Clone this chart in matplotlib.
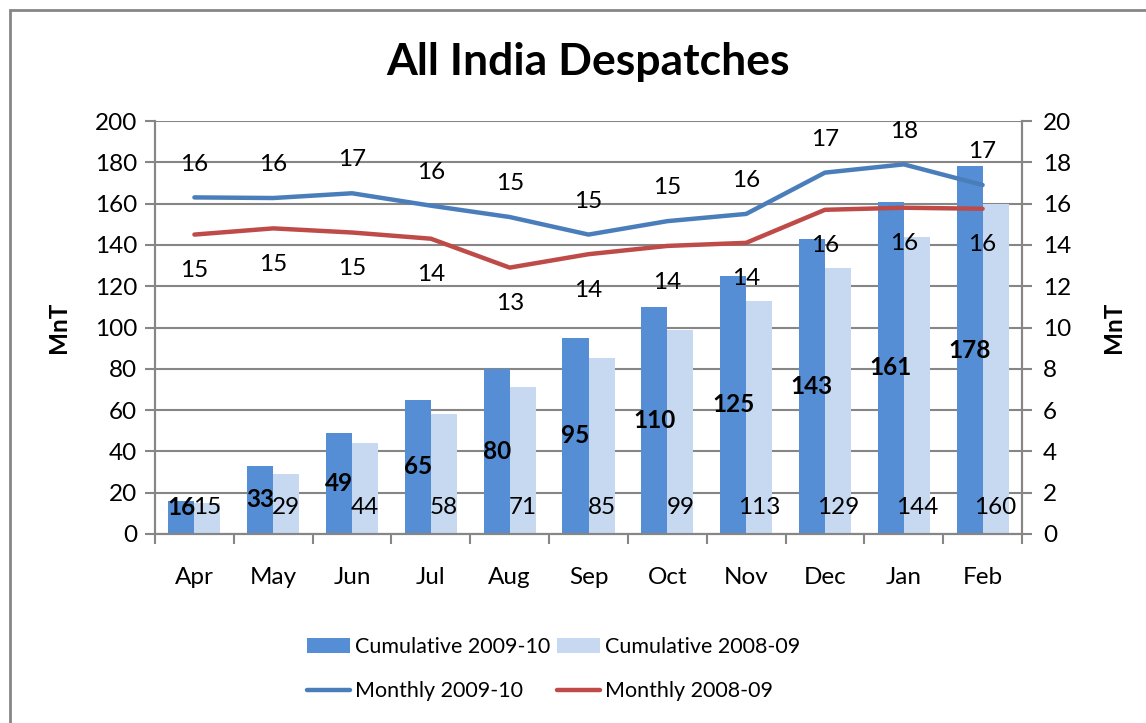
import numpy as np
import matplotlib
matplotlib.use('Agg')
import matplotlib.pyplot as plt
from matplotlib.patches import Rectangle

plt.rcParams['font.family'] = ['Lato', 'DejaVu Sans']

# Dados
meses = ['Apr', 'May', 'Jun', 'Jul', 'Aug', 'Sep', 'Oct', 'Nov', 'Dec', 'Jan', 'Feb']
cum_2009 = [16, 33, 49, 65, 80, 95, 110, 125, 143, 161, 178]
cum_2008 = [15, 29, 44, 58, 71, 85, 99, 113, 129, 144, 160]
mensal_2009 = [16.3, 16.27, 16.5, 15.9, 15.35, 14.5, 15.15, 15.5, 17.5, 17.9, 16.9]
mensal_2008 = [14.5, 14.8, 14.6, 14.3, 12.9, 13.55, 13.95, 14.1, 15.7, 15.8, 15.75]
rot_mensal_2009 = [16, 16, 17, 16, 15, 15, 15, 16, 17, 18, 17]
rot_mensal_2008 = [15, 15, 15, 14, 13, 14, 14, 14, 16, 16, 16]

cor_escura = '#558ED5'
cor_clara = '#C6D9F1'
cor_azul = '#4A7EBB'
cor_vermelha = '#BE4B48'
cinza = '#868686'
fs = 17.5

fig = plt.figure(figsize=(11.46, 7.23), dpi=100)
ax = fig.add_axes([155 / 1146, 1 - 534 / 723, (1022 - 155) / 1146, (534 - 121) / 723])
ax2 = ax.twinx()

x = np.arange(len(meses))
w = 0.33
b1 = ax.bar(x - w / 2, cum_2009, w, color=cor_escura, label='Cumulative 2009-10', zorder=2)
b2 = ax.bar(x + w / 2, cum_2008, w, color=cor_clara, label='Cumulative 2008-09', zorder=2)

# Rótulos das barras
for xi, v in zip(x, cum_2009):
    ax.text(xi - w / 2, max(v / 2, 13), str(v), ha='center', va='center',
            fontsize=fs, fontweight='bold', zorder=3)
for xi, v in zip(x, cum_2008):
    ax.text(xi + w / 2, 13, str(v), ha='center', va='center', fontsize=fs, zorder=3)

l1, = ax2.plot(x, mensal_2009, color=cor_azul, lw=3.2, label='Monthly 2009-10',
               solid_capstyle='round')
l2, = ax2.plot(x, mensal_2008, color=cor_vermelha, lw=3.2, label='Monthly 2008-09',
               solid_capstyle='round')
for xi, v, r in zip(x, mensal_2009, rot_mensal_2009):
    ax2.annotate(str(r), (xi, v), xytext=(0, 24), textcoords='offset points',
                 ha='center', va='center', fontsize=fs)
for xi, v, r in zip(x, mensal_2008, rot_mensal_2008):
    ax2.annotate(str(r), (xi, v), xytext=(0, -26), textcoords='offset points',
                 ha='center', va='center', fontsize=fs)

# Eixos
ax.set_xlim(-0.5, len(meses) - 0.5)
ax.set_ylim(0, 200)
ax2.set_ylim(0, 20)
ax.set_yticks(range(0, 201, 20))
ax2.set_yticks(range(0, 21, 2))
ax.set_xticks(x)
ax.set_xticklabels(meses)
ax.set_xticks(np.arange(-0.5, len(meses), 1), minor=True)
ax.tick_params(axis='x', which='major', length=0, pad=24, labelsize=fs)
ax.tick_params(axis='x', which='minor', length=7, width=1.5, color=cinza)
ax.tick_params(axis='y', length=7, width=1.5, color=cinza, labelsize=fs, pad=6)
ax2.tick_params(axis='y', length=7, width=1.5, color=cinza, labelsize=fs, pad=8)
ax.grid(axis='y', color=cinza, lw=1.5, zorder=0)
ax.set_axisbelow(True)
for a in (ax, ax2):
    a.spines['top'].set_visible(False)
    for s in ('left', 'right', 'bottom'):
        a.spines[s].set_color(cinza)
        a.spines[s].set_linewidth(1.5)

ax.set_ylabel('MnT', fontsize=fs, fontweight='bold', labelpad=18)
ax2.set_ylabel('MnT', fontsize=fs, fontweight='bold', labelpad=22)

fig.text(0.513, 1 - 62 / 723, 'All India Despatches', ha='center', va='center',
         fontsize=32, fontweight='bold')

leg = fig.legend([b1, l1, b2, l2],
                 ['Cumulative 2009-10', 'Monthly 2009-10', 'Cumulative 2008-09', 'Monthly 2008-09'],
                 ncol=2, loc='center', bbox_to_anchor=(0.483, 1 - 669 / 723), frameon=False,
                 fontsize=15.5, handlelength=2.0, handleheight=0.7, handletextpad=0.25,
                 columnspacing=0.3, labelspacing=1.15)

# Borda da figura
fig.patches.append(Rectangle((10 / 1146, -0.1), 1.2, 1 - 10 / 723 + 0.1, transform=fig.transFigure,
                             fill=False, edgecolor=cinza, lw=2))

fig.savefig('out.png', dpi=100)
